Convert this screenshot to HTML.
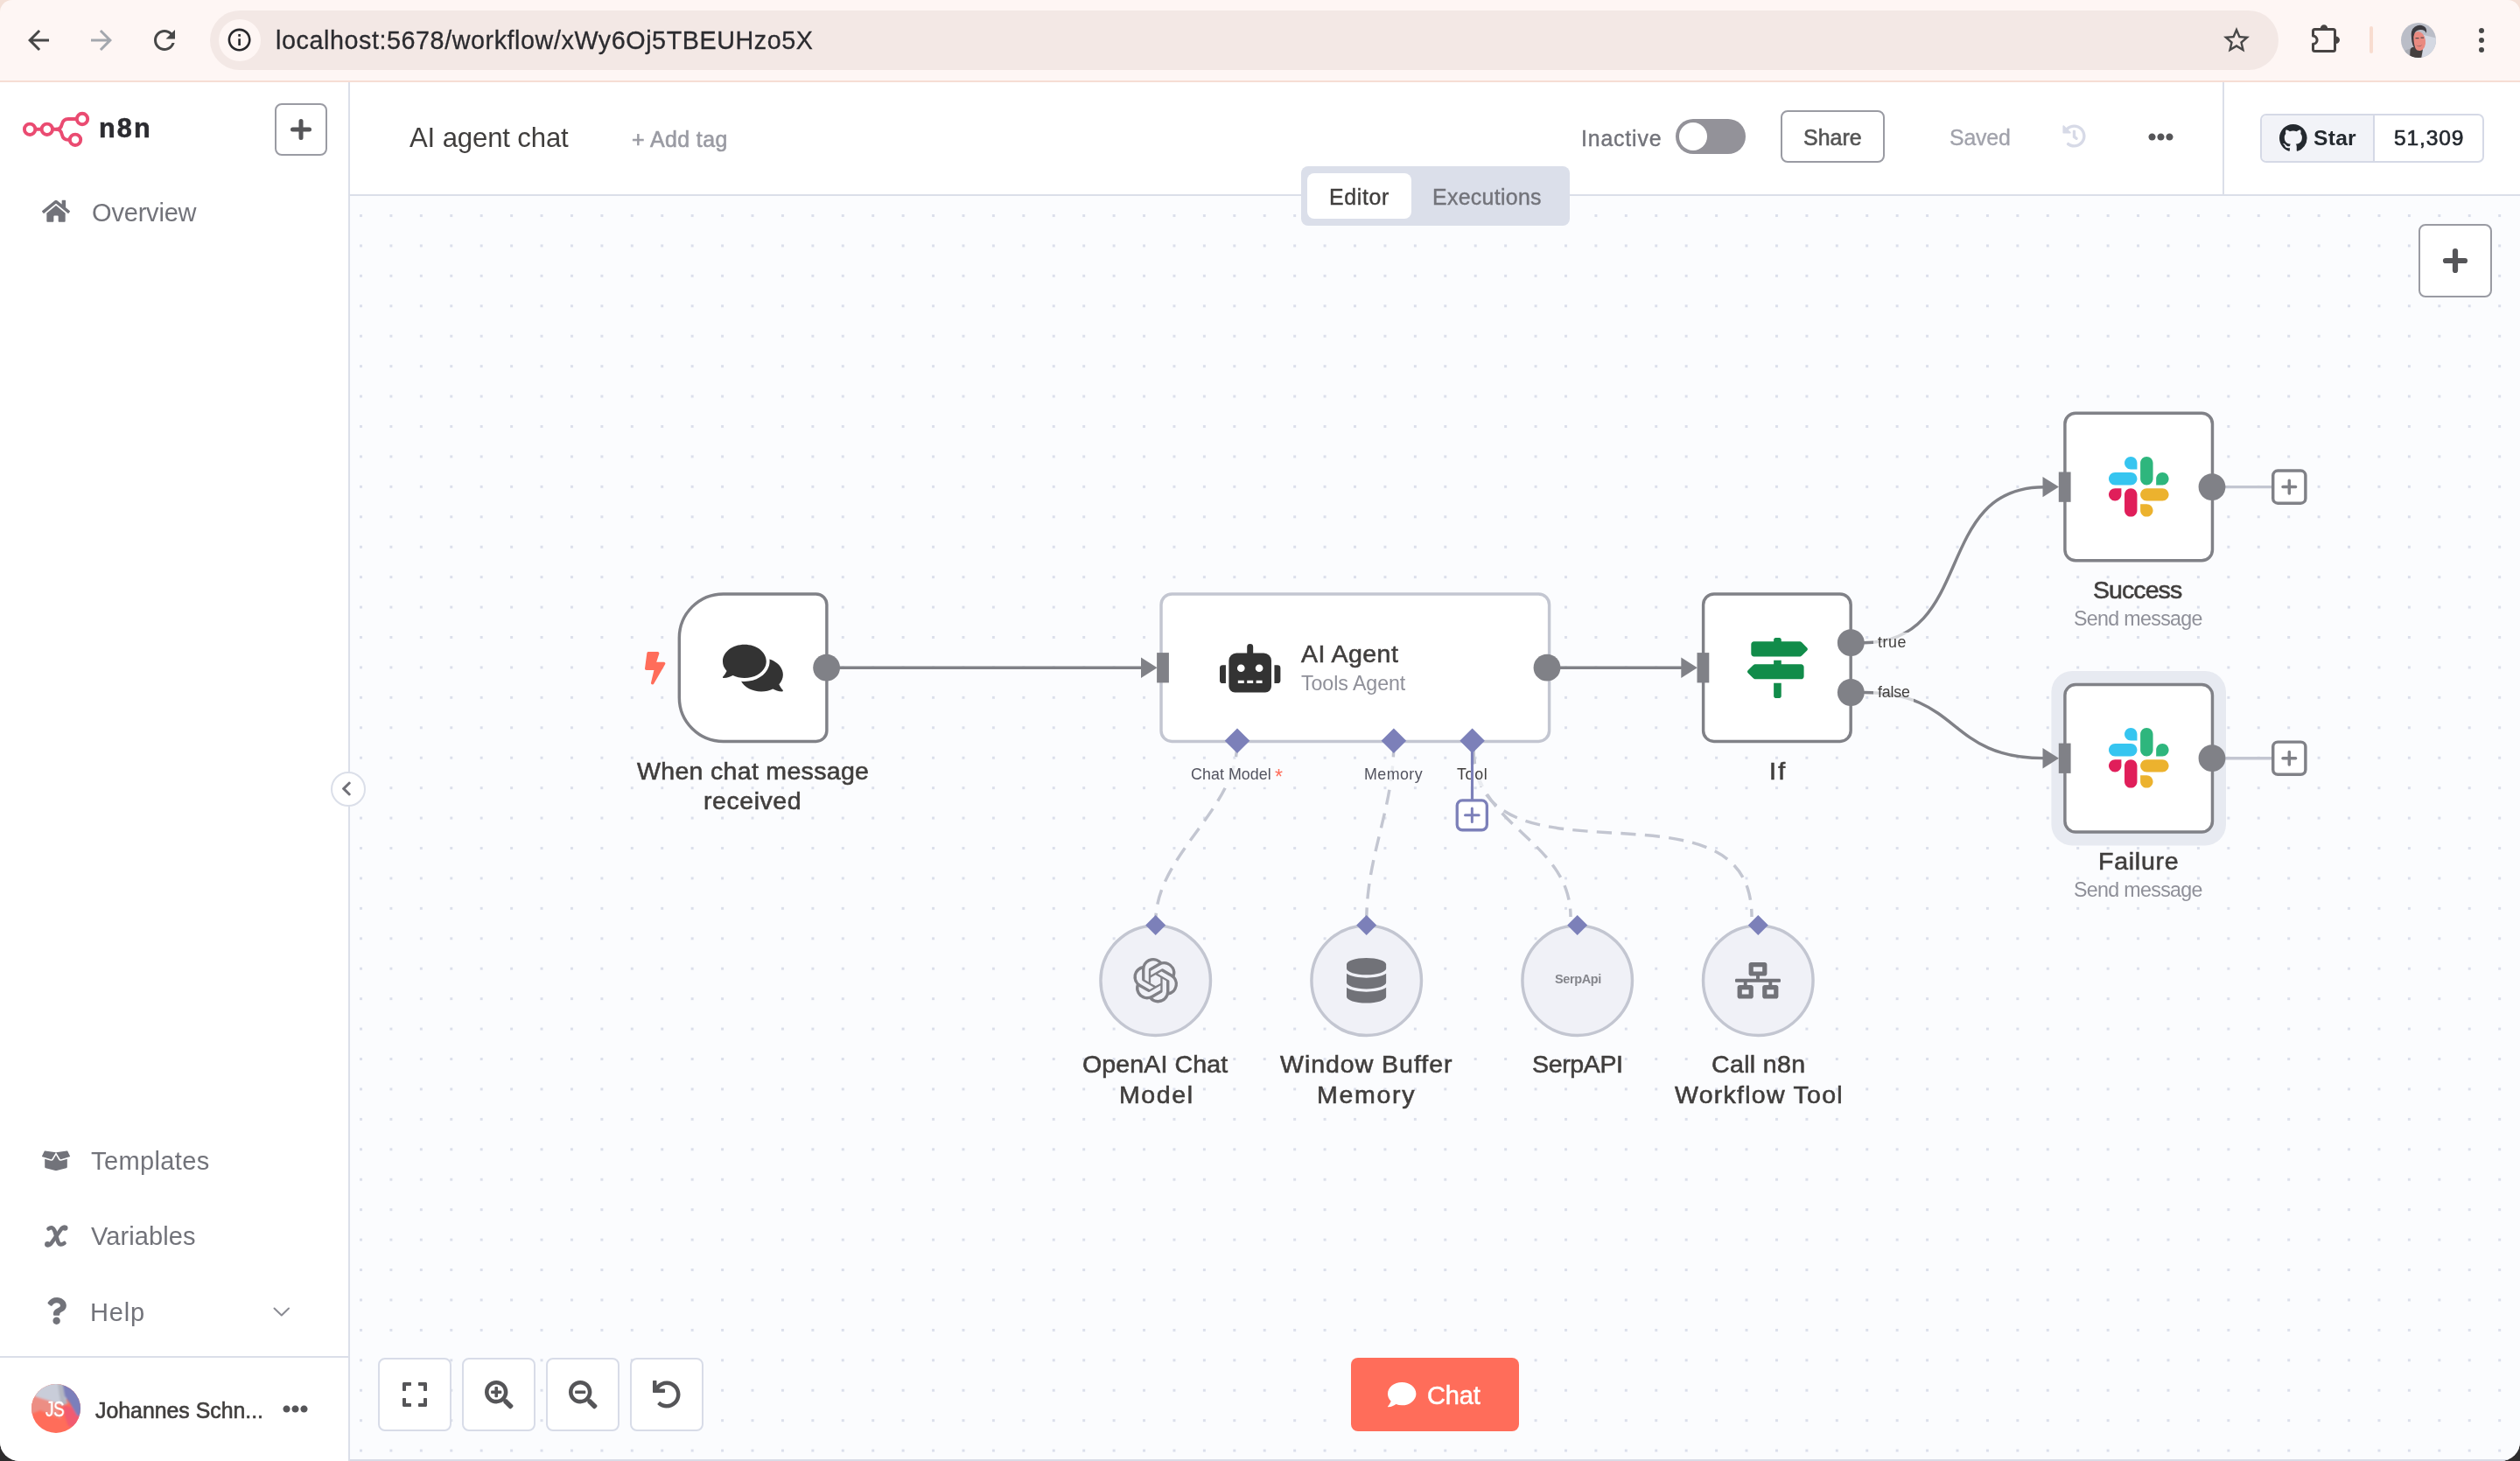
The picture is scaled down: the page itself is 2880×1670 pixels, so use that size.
<!DOCTYPE html><html lang="en"><head><meta charset="utf-8"><title>AI agent chat - n8n</title><style>
*{box-sizing:border-box;margin:0;padding:0}
html,body{width:2880px;height:1670px;overflow:hidden;background:#2e2c2d;font-family:"Liberation Sans",sans-serif}
#win{position:absolute;left:0;top:0;width:2880px;height:1670px;overflow:hidden;border-radius:0 0 22px 22px;background:#fff}
.a{position:absolute}
.ic{position:absolute;display:block;overflow:visible}
.t{position:absolute;white-space:pre;line-height:1;font-family:"Liberation Sans",sans-serif;will-change:transform}
.btn{position:absolute;background:#fff;border:2px solid #d8dce8;border-radius:8px}
</style></head><body><div id="win">
<div class="a" style="left:0;top:0;width:2880px;height:30px;background:#f4e0d7"></div>
<div class="a" style="left:0;top:0;width:2880px;height:92px;background:#fef6f4;border-radius:14px 14px 0 0"></div>
<div class="a" style="left:0;top:92px;width:2880px;height:2px;background:#f6ddd4"></div>
<svg class="ic" style="left:26.00px;top:27.80px;width:36px;height:36px" viewBox="0 0 24 24"><path fill="#474747" d="M20 11H7.83l5.59-5.59L12 4l-8 8 8 8 1.41-1.41L7.83 13H20v-2z"/></svg>
<svg class="ic" style="left:97.80px;top:27.80px;width:36px;height:36px" viewBox="0 0 24 24"><path fill="#a3a7ae" d="M12 4l-1.41 1.41L16.17 11H4v2h12.170l-5.580 5.590L12 20l8-8z"/></svg>
<svg class="ic" style="left:170.00px;top:28.00px;width:36px;height:36px" viewBox="0 0 24 24"><path fill="#474747" d="M17.65 6.35C16.200 4.900 14.210 4 12 4c-4.420 0-7.990 3.580-7.990 8s3.570 8 7.990 8c3.730 0 6.840-2.550 7.730-6h-2.080c-.820 2.330-3.040 4-5.650 4-3.310 0-6-2.690-6-6s2.690-6 6-6c1.660 0 3.140.690 4.220 1.780L13 11h7V4l-2.350 2.350z"/></svg>
<div class="a" style="left:240px;top:12px;width:2364px;height:68px;border-radius:34px;background:#f3e8e5"></div>
<div class="a" style="left:250px;top:22px;width:48px;height:48px;border-radius:24px;background:#fef6f4"></div>
<svg class="ic" style="left:258.40px;top:30.40px;width:31.2px;height:31.2px" viewBox="0 0 24 24"><path fill="#27272b" d="M11 7h2v2h-2zm0 4h2v6h-2zm1-9C6.480 2 2 6.480 2 12s4.480 10 10 10 10-4.480 10-10S17.520 2 12 2zm0 18c-4.410 0-8-3.590-8-8s3.590-8 8-8 8 3.590 8 8-3.590 8-8 8z"/></svg>
<span class="t " style="left:314.70px;top:32.20px;font-size:28.7px;font-weight:400;letter-spacing:0.58px;color:#2b2b2f;-webkit-text-stroke:0.3px #2b2b2f;">localhost:5678/workflow/xWy6Oj5TBEUHzo5X</span>
<svg class="ic" style="left:2538.00px;top:27.50px;width:36px;height:36px" viewBox="0 0 24 24"><path fill="#474747" d="M22 9.240l-7.190-.620L12 2 9.190 8.630 2 9.240l5.460 4.730L5.820 21 12 17.270 18.180 21l-1.630-7.030L22 9.240zM12 15.400l-3.760 2.270 1-4.280-3.320-2.880 4.380-.380L12 6.100l1.710 4.040 4.380.380-3.320 2.880 1 4.280L12 15.400z"/></svg>
<svg class="ic" style="left:2636px;top:22px;width:48px;height:48px" viewBox="2636 22 48 48"><path fill="none" stroke="#474342" stroke-width="3" stroke-linejoin="round" d="M2645.500 33.500 H2666.500 a2 2 0 0 1 2 2 V56.500 a2 2 0 0 1 -2 2 H2645.500 a2 2 0 0 1 -2 -2 V50.300 a4.600 4.600 0 0 0 0 -9.200 V35.500 a2 2 0 0 1 2 -2 Z"/><path fill="#474342" d="M2651.800 32.600 a4.200 4.400 0 0 1 8.400 0 Z M2669.400 41.500 a4.600 4.200 0 0 1 0 8.400 Z"/></svg>
<div class="a" style="left:2708px;top:30px;width:4px;height:31px;border-radius:2px;background:#f8dccf"></div>
<svg class="ic" style="left:2743.7px;top:25.7px;width:40px;height:40px" viewBox="0 0 40 40"><defs><clipPath id="pc"><circle cx="20" cy="20" r="20"/></clipPath></defs><g clip-path="url(#pc)"><rect width="40" height="40" fill="#babdc7"/><path fill="#d4d8e2" d="M26 14 L42 18 V42 H24 Z"/><path fill="#a9acb4" d="M4 32 L14 28 L14 42 L0 42 Z"/><path fill="#45403f" d="M10.500 31 Q12 27 16 28 L25 30 Q24 36 23 41 L10 41 Z"/><ellipse cx="20.400" cy="21" rx="7.600" ry="11" fill="#ea8a80" transform="rotate(-8 20.400 21)"/><path fill="#3d3b40" d="M12 18 Q10.500 8 16 4.500 Q21 1.500 26 4 Q30 6 29 12 Q27 7.500 22 8 Q17 8.500 15.500 12 Q14 15 14.500 20 Q15 27 17.500 31 Q12.500 27 12 18 Z"/><path fill="#5a4a4a" d="M16.500 17 h4 v1.300 h-4 Z M22.500 16.400 h3.600 v1.300 h-3.600 Z M17 25.500 q3.500 2.500 7.500 -0.500 q-3 4 -7.500 0.500 Z"/></g></svg>
<div class="a" style="left:2832.7px;top:32px;width:6px;height:6px;border-radius:3px;background:#474747"></div>
<div class="a" style="left:2832.7px;top:43px;width:6px;height:6px;border-radius:3px;background:#474747"></div>
<div class="a" style="left:2832.7px;top:54px;width:6px;height:6px;border-radius:3px;background:#474747"></div>
<div class="a" style="left:400px;top:224px;width:2480px;height:1446px;background:#fbfcfe"></div>
<svg class="ic" style="left:0;top:0;width:2880px;height:1670px" viewBox="0 0 2880 1670">
<defs><pattern id="dots" x="411" y="245" width="34.425" height="34.43" patternUnits="userSpaceOnUse"><rect x="0" y="0" width="3" height="3" fill="#dbdfeb"/></pattern></defs>
<rect x="400" y="224" width="2480" height="1444" fill="url(#dots)"/>
<rect x="400" y="1668" width="2480" height="2" fill="#d9dce7"/>
<rect x="2344.4" y="766.9" width="199.6" height="199.6" rx="24" fill="#e7eaf1"/>
<path stroke="#c3c6d1" stroke-width="3.44" fill="none" stroke-dasharray="17.2 10.3" d="M1414.0 848.0 C1414.0 926.0 1320.7 976.0 1320.7 1054.0"/>
<path stroke="#c3c6d1" stroke-width="3.44" fill="none" stroke-dasharray="17.2 10.3" d="M1592.9 848.0 C1592.9 926.0 1561.7 976.0 1561.7 1054.0"/>
<path stroke="#c3c6d1" stroke-width="3.44" fill="none" stroke-dasharray="17.2 10.3" d="M1684.0 856.0 C1684.0 944.0 1795.0 960.0 1795.0 1048.0"/>
<path stroke="#c3c6d1" stroke-width="3.44" fill="none" stroke-dasharray="17.2 10.3" d="M1684.0 856.0 C1684.0 1029.0 2002.0 875.0 2002.0 1048.0"/>
<path stroke="#808187" stroke-width="3.44" fill="none" d="M944 763.2 H1306"/>
<path stroke="#808187" stroke-width="3.44" fill="none" d="M1768 763.2 H1923"/>
<path stroke="#808187" stroke-width="3.44" fill="none" d="M2130.0 734.7 C2258.0 734.7 2208.0 556.7 2336.0 556.7"/>
<path stroke="#808187" stroke-width="3.44" fill="none" d="M2130.0 791.5 C2242.0 791.5 2224.0 866.6 2336.0 866.6"/>
<path stroke="#c3c6d1" stroke-width="3.44" fill="none" d="M2528 556.6 H2597 M2528 866.7 H2597"/>
<path fill="#808187" d="M1322.5 763.2 L1304.0 751.5 L1304.0 774.9000000000001 Z"/>
<path fill="#808187" d="M1939.8 763.2 L1921.3 751.5 L1921.3 774.9000000000001 Z"/>
<path fill="#808187" d="M2353 556.6 L2334.5 544.9 L2334.5 568.3000000000001 Z"/>
<path fill="#808187" d="M2353 866.7 L2334.5 855.0 L2334.5 878.4000000000001 Z"/>
<path stroke="#7c80b9" stroke-width="3.2" fill="none" d="M1682.5 856 V915"/>
<path fill="#fff" stroke="#808187" stroke-width="3.44" d="M826.60 678.92 H932.60 A12.28 12.28 0 0 1 944.88 691.20 V835.20 A12.28 12.28 0 0 1 932.60 847.48 H826.60 A50.28 50.28 0 0 1 776.32 797.20 V729.20 A50.28 50.28 0 0 1 826.60 678.92 Z"/>
<path fill="#fff" stroke="#c3c6d1" stroke-width="3.44" d="M1339.30 678.92 H1758.30 A12.28 12.28 0 0 1 1770.58 691.20 V835.20 A12.28 12.28 0 0 1 1758.30 847.48 H1339.30 A12.28 12.28 0 0 1 1327.02 835.20 V691.20 A12.28 12.28 0 0 1 1339.30 678.92 Z"/>
<path fill="#fff" stroke="#808187" stroke-width="3.44" d="M1958.90 678.92 H2102.90 A12.28 12.28 0 0 1 2115.18 691.20 V835.20 A12.28 12.28 0 0 1 2102.90 847.48 H1958.90 A12.28 12.28 0 0 1 1946.62 835.20 V691.20 A12.28 12.28 0 0 1 1958.90 678.92 Z"/>
<path fill="#fff" stroke="#808187" stroke-width="3.44" d="M2372.20 472.22 H2516.20 A12.28 12.28 0 0 1 2528.48 484.50 V628.50 A12.28 12.28 0 0 1 2516.20 640.78 H2372.20 A12.28 12.28 0 0 1 2359.92 628.50 V484.50 A12.28 12.28 0 0 1 2372.20 472.22 Z"/>
<path fill="#fff" stroke="#808187" stroke-width="3.44" d="M2372.20 782.52 H2516.20 A12.28 12.28 0 0 1 2528.48 794.80 V938.80 A12.28 12.28 0 0 1 2516.20 951.08 H2372.20 A12.28 12.28 0 0 1 2359.92 938.80 V794.80 A12.28 12.28 0 0 1 2372.20 782.52 Z"/>
<circle cx="1320.7" cy="1120.7" r="62.78" fill="#f0f1f7" stroke="#c3c6d1" stroke-width="3.44"/>
<circle cx="1561.7" cy="1120.7" r="62.78" fill="#f0f1f7" stroke="#c3c6d1" stroke-width="3.44"/>
<circle cx="1802.7" cy="1120.7" r="62.78" fill="#f0f1f7" stroke="#c3c6d1" stroke-width="3.44"/>
<circle cx="2009.3" cy="1120.7" r="62.78" fill="#f0f1f7" stroke="#c3c6d1" stroke-width="3.44"/>
<circle cx="944.6" cy="763.2" r="15.4" fill="#808187"/>
<circle cx="1768" cy="763.2" r="15.4" fill="#808187"/>
<circle cx="2115.3" cy="734.7" r="15.4" fill="#808187"/>
<circle cx="2115.3" cy="791.5" r="15.4" fill="#808187"/>
<circle cx="2528" cy="556.6" r="15.4" fill="#808187"/>
<circle cx="2528" cy="866.7" r="15.4" fill="#808187"/>
<rect x="1322.1" y="746.1" width="13.8" height="34.3" fill="#808187"/>
<rect x="1939.5" y="746.1" width="13.8" height="34.3" fill="#808187"/>
<rect x="2352.8" y="539.5" width="13.8" height="34.3" fill="#808187"/>
<rect x="2352.8" y="849.6" width="13.8" height="34.3" fill="#808187"/>
<path fill="#7c80b9" d="M1414 832.5 L1428.3 846.8 L1414 861.0999999999999 L1399.7 846.8 Z"/>
<path fill="#7c80b9" d="M1592.9 832.5 L1607.2 846.8 L1592.9 861.0999999999999 L1578.6000000000001 846.8 Z"/>
<path fill="#7c80b9" d="M1682.6 832.5 L1696.8999999999999 846.8 L1682.6 861.0999999999999 L1668.3 846.8 Z"/>
<path fill="#7c80b9" d="M1320.7 1045.9 L1332.2 1057.4 L1320.7 1068.9 L1309.2 1057.4 Z"/>
<path fill="#7c80b9" d="M1561.7 1045.9 L1573.2 1057.4 L1561.7 1068.9 L1550.2 1057.4 Z"/>
<path fill="#7c80b9" d="M1802.7 1045.9 L1814.2 1057.4 L1802.7 1068.9 L1791.2 1057.4 Z"/>
<path fill="#7c80b9" d="M2009.3 1045.9 L2020.8 1057.4 L2009.3 1068.9 L1997.8 1057.4 Z"/>
<rect x="2597.72" y="538.02" width="37.16" height="37.16" rx="5.5" fill="#fff" stroke="#808187" stroke-width="3.44"/>
<path stroke="#808187" stroke-width="3.5" stroke-linecap="round" fill="none" d="M2609 556.6 H2623.6 M2616.3 549.3000000000001 V563.9"/>
<rect x="2597.72" y="848.12" width="37.16" height="37.16" rx="5.5" fill="#fff" stroke="#808187" stroke-width="3.44"/>
<path stroke="#808187" stroke-width="3.5" stroke-linecap="round" fill="none" d="M2609 866.7 H2623.6 M2616.3 859.4000000000001 V874.0"/>
<rect x="1665.25" y="914.85" width="34.10" height="33.90" rx="6" fill="#fff" stroke="#7c80b9" stroke-width="3.3"/>
<path stroke="#7c80b9" stroke-width="3" stroke-linecap="round" fill="none" d="M1674.5 931.8 H1690.2 M1682.35 924 V939.6"/>
</svg>
<svg class="ic" style="left:826.05px;top:732.58px;width:68.90px;height:61.24px;" viewBox="0 0 576 512"><path fill="#333" d="M416 192c0-88.400-93.100-160-208-160S0 103.600 0 192c0 34.300 14.100 65.900 38 92-13.400 30.200-35.500 54.200-35.800 54.500-2.200 2.300-2.800 5.700-1.500 8.700S4.800 352 8 352c36.600 0 66.900-12.300 88.700-25 32.200 15.700 70.300 25 111.300 25 114.900 0 208-71.600 208-160zm122 220c23.900-26 38-57.700 38-92 0-66.900-53.500-124.200-129.300-148.100.900 6.600 1.300 13.300 1.300 20.100 0 105.900-107.700 192-240 192-10.800 0-21.300-.800-31.700-1.900C207.800 439.600 281.800 480 368 480c41 0 79.100-9.200 111.300-25 21.800 12.700 52.100 25 88.700 25 3.200 0 6.100-1.900 7.300-4.800 1.300-2.900.700-6.300-1.500-8.700-.300-.300-22.400-24.200-35.800-54.500z"/></svg>
<svg class="ic" style="left:736.91px;top:744.70px;width:23.38px;height:37.40px;" viewBox="0 0 320 512"><path fill="#ff6d5a" d="M296 160H180.6l42.6-129.8C227.2 15 215.7 0 200 0H56C44 0 33.8 8.9 32.2 20.8l-32 240C-1.7 275.2 9.500 288 24 288h118.700L96.600 482.500c-3.600 15.200 8 29.500 23.300 29.500 8.400 0 16.400-4.400 20.800-12l176-304c9.300-15.900-2.200-36-20.700-36z"/></svg>
<svg class="ic" style="left:1393.80px;top:735.54px;width:69.40px;height:55.52px;" viewBox="0 0 640 512"><path fill="#333" d="M32,224H64V416H32A31.96166,31.96166,0,0,1,0,384V256A31.96166,31.96166,0,0,1,32,224Zm512-48V448a64.06328,64.06328,0,0,1-64,64H160a64.06328,64.06328,0,0,1-64-64V176a79.974,79.974,0,0,1,80-80H288V32a32,32,0,0,1,64,0V96H464A79.974,79.974,0,0,1,544,176ZM264,256a40,40,0,1,0-40,40A39.997,39.997,0,0,0,264,256Zm-8,128H192v32h64Zm96,0H288v32h64ZM456,256a40,40,0,1,0-40,40A39.997,39.997,0,0,0,456,256Zm-8,128H384v32h64ZM640,256V384a31.96166,31.96166,0,0,1-32,32H576V224h32A31.96166,31.96166,0,0,1,640,256Z"/></svg>
<svg class="ic" style="left:1996.55px;top:728.75px;width:68.90px;height:68.90px;" viewBox="0 0 512 512"><path fill="#118c4a" d="M507.310 84.690L464 41.370c-6-6-14.140-9.370-22.630-9.370H288V16c0-8.840-7.160-16-16-16h-32c-8.840 0-16 7.160-16 16v16H56c-13.250 0-24 10.750-24 24v80c0 13.250 10.750 24 24 24h385.370c8.490 0 16.620-3.370 22.630-9.370l43.310-43.310c6.250-6.260 6.250-16.380 0-22.630zM224 496c0 8.840 7.160 16 16 16h32c8.840 0 16-7.160 16-16V384h-64v112zm232-272H288v-32h-64v32H70.630c-8.490 0-16.620 3.370-22.630 9.370L4.690 276.690c-6.250 6.250-6.250 16.380 0 22.630L48 342.630c6 6 14.140 9.370 22.630 9.370H456c13.250 0 24-10.750 24-24v-80c0-13.250-10.750-24-24-24z"/></svg>
<svg class="ic" style="left:2409.7px;top:522.2px;width:68.6px;height:68.6px" viewBox="0 0 122.8 122.8"><path fill="#e01e5a" d="M25.8 77.6c0 7.1-5.8 12.9-12.9 12.9S0 84.700 0 77.600s5.800-12.900 12.900-12.900h12.900v12.900zm6.500 0c0-7.100 5.800-12.900 12.900-12.900s12.900 5.800 12.900 12.900v32.300c0 7.100-5.800 12.900-12.900 12.900s-12.900-5.800-12.900-12.900V77.600z"/><path fill="#36c5f0" d="M45.2 25.8c-7.1 0-12.9-5.8-12.9-12.9S38.100 0 45.200 0s12.900 5.800 12.900 12.900v12.900H45.200zm0 6.500c7.100 0 12.900 5.800 12.900 12.900s-5.800 12.900-12.900 12.900H12.900C5.800 58.100 0 52.300 0 45.200s5.800-12.900 12.900-12.900h32.300z"/><path fill="#2eb67d" d="M97 45.2c0-7.1 5.8-12.9 12.9-12.9s12.900 5.800 12.900 12.900-5.800 12.900-12.900 12.900H97V45.200zm-6.500 0c0 7.100-5.800 12.900-12.900 12.900s-12.900-5.800-12.900-12.900V12.900C64.700 5.800 70.500 0 77.600 0s12.900 5.800 12.900 12.900v32.300z"/><path fill="#ecb22e" d="M77.6 97c7.1 0 12.9 5.8 12.9 12.9s-5.800 12.900-12.900 12.900-12.900-5.800-12.900-12.900V97h12.900zm0-6.500c-7.100 0-12.900-5.800-12.900-12.900s5.800-12.900 12.900-12.900h32.300c7.100 0 12.900 5.800 12.900 12.900s-5.800 12.900-12.900 12.900H77.600z"/></svg>
<svg class="ic" style="left:2409.7px;top:832.4px;width:68.6px;height:68.6px" viewBox="0 0 122.8 122.8"><path fill="#e01e5a" d="M25.8 77.6c0 7.1-5.8 12.9-12.9 12.9S0 84.700 0 77.600s5.800-12.900 12.900-12.900h12.900v12.900zm6.500 0c0-7.100 5.800-12.900 12.900-12.900s12.900 5.800 12.900 12.900v32.300c0 7.100-5.800 12.900-12.900 12.900s-12.900-5.800-12.900-12.900V77.600z"/><path fill="#36c5f0" d="M45.2 25.8c-7.1 0-12.9-5.8-12.9-12.9S38.100 0 45.200 0s12.900 5.800 12.900 12.900v12.900H45.200zm0 6.500c7.100 0 12.900 5.800 12.900 12.900s-5.800 12.900-12.900 12.900H12.900C5.800 58.100 0 52.300 0 45.200s5.800-12.900 12.900-12.900h32.300z"/><path fill="#2eb67d" d="M97 45.2c0-7.1 5.8-12.9 12.9-12.9s12.900 5.800 12.900 12.900-5.800 12.900-12.900 12.900H97V45.200zm-6.500 0c0 7.100-5.800 12.900-12.900 12.900s-12.900-5.800-12.900-12.900V12.900C64.700 5.800 70.500 0 77.600 0s12.900 5.800 12.900 12.900v32.300z"/><path fill="#ecb22e" d="M77.6 97c7.1 0 12.9 5.8 12.9 12.9s-5.800 12.900-12.900 12.900-12.900-5.800-12.900-12.900V97h12.900zm0-6.500c-7.100 0-12.900-5.800-12.900-12.900s5.800-12.900 12.900-12.900h32.300c7.100 0 12.900 5.800 12.900 12.900s-5.800 12.900-12.900 12.900H77.600z"/></svg>
<svg class="ic" style="left:1294.9px;top:1094.9px;width:51.4px;height:51.4px" viewBox="0 0 24 24"><path fill="#808086" d="M22.2819 9.8211a5.9847 5.9847 0 0 0-.5157-4.9108 6.0462 6.0462 0 0 0-6.5098-2.9A6.0651 6.0651 0 0 0 4.9807 4.1818a5.9847 5.9847 0 0 0-3.9977 2.9 6.0462 6.0462 0 0 0 .7427 7.0966 5.98 5.98 0 0 0 .511 4.9107 6.051 6.051 0 0 0 6.5146 2.9001A5.9847 5.9847 0 0 0 13.2599 24a6.0557 6.0557 0 0 0 5.7718-4.2058 5.9894 5.9894 0 0 0 3.9977-2.9001 6.0557 6.0557 0 0 0-.7475-7.0729zm-9.022 12.6081a4.4755 4.4755 0 0 1-2.8764-1.0408l.1419-.0804 4.7783-2.7582a.7948.7948 0 0 0 .3927-.6813v-6.7369l2.02 1.1686a.071.071 0 0 1 .038.052v5.5826a4.504 4.504 0 0 1-4.4945 4.4944zm-9.6607-4.1254a4.4708 4.4708 0 0 1-.5346-3.0137l.142.0852 4.783 2.7582a.7712.7712 0 0 0 .7806 0l5.8428-3.3685v2.3324a.0804.0804 0 0 1-.0332.0615L9.74 19.9502a4.4992 4.4992 0 0 1-6.1408-1.6464zM2.3408 7.8956a4.485 4.485 0 0 1 2.3655-1.9728V11.6a.7664.7664 0 0 0 .3879.6765l5.8144 3.3543-2.0201 1.1685a.0757.0757 0 0 1-.071 0l-4.8303-2.7865A4.504 4.504 0 0 1 2.3408 7.872zm16.5963 3.8558L13.1038 8.364 15.1192 7.2a.0757.0757 0 0 1 .071 0l4.8303 2.7913a4.4944 4.4944 0 0 1-.6765 8.1042v-5.6772a.79.79 0 0 0-.407-.667zm2.0107-3.0231l-.142-.0852-4.7735-2.7818a.7759.7759 0 0 0-.7854 0L9.409 9.2297V6.8974a.0662.0662 0 0 1 .0284-.0615l4.8303-2.7866a4.4992 4.4992 0 0 1 6.6802 4.66zM8.3065 12.863l-2.02-1.1638a.0804.0804 0 0 1-.038-.0567V6.0742a4.4992 4.4992 0 0 1 7.3757-3.4537l-.142.0805L8.704 5.459a.7948.7948 0 0 0-.3927.6813zm1.0976-2.3654l2.602-1.4998 2.6069 1.4998v2.9994l-2.5974 1.4997-2.6067-1.4997Z"/></svg>
<svg class="ic" style="left:1539.12px;top:1094.50px;width:45.15px;height:51.60px;" viewBox="0 0 448 512"><path fill="#717278" d="M448 73.143v45.714C448 159.143 347.667 192 224 192S0 159.143 0 118.857V73.143C0 32.857 100.333 0 224 0s224 32.857 224 73.143zM448 176v102.857C448 319.143 347.667 352 224 352S0 319.143 0 278.857V176c48.125 33.143 136.208 48.572 224 48.572S399.874 209.143 448 176zm0 160v102.857C448 479.143 347.667 512 224 512S0 479.143 0 438.857V336c48.125 33.143 136.208 48.572 224 48.572S399.874 369.143 448 336z"/></svg>
<svg class="ic" style="left:1983.40px;top:1099.60px;width:52.00px;height:41.60px;" viewBox="0 0 640 512"><path fill="#717278" d="M640 264v-16c0-8.840-7.160-16-16-16H344v-40h72c17.670 0 32-14.330 32-32V32c0-17.670-14.330-32-32-32H224c-17.670 0-32 14.330-32 32v128c0 17.670 14.330 32 32 32h72v40H16c-8.840 0-16 7.160-16 16v16c0 8.840 7.160 16 16 16h104v40H64c-17.670 0-32 14.330-32 32v128c0 17.670 14.330 32 32 32h160c17.670 0 32-14.330 32-32V352c0-17.670-14.330-32-32-32h-56v-40h304v40h-56c-17.670 0-32 14.330-32 32v128c0 17.670 14.330 32 32 32h160c17.670 0 32-14.330 32-32V352c0-17.670-14.330-32-32-32h-56v-40h104c8.840 0 16-7.160 16-16zM256 128V64h128v64H256zm-64 320H96v-64h96v64zm352 0h-96v-64h96v64z"/></svg>
<span class="t " style="left:1776.60px;top:1112.46px;font-size:14.52px;font-weight:700;letter-spacing:-0.4px;color:#85868c;">SerpApi</span>
<div class="a" style="left:1356px;top:874px;width:116px;height:26px;background:rgba(251,252,254,.7);"></div>
<div class="a" style="left:1556.1px;top:873.6px;width:73.6px;height:25.6px;background:rgba(251,252,254,.7);"></div>
<div class="a" style="left:1661.4px;top:873.6px;width:41.5px;height:25.6px;background:rgba(251,252,254,.7);"></div>
<div class="a" style="left:2140.7px;top:723.3px;width:42.4px;height:23.6px;background:rgba(251,252,254,.7);"></div>
<div class="a" style="left:2140.7px;top:780.0px;width:46.6px;height:23.6px;background:rgba(251,252,254,.7);"></div>
<span class="t " style="left:1360.60px;top:877.14px;font-size:17.84px;font-weight:400;letter-spacing:0.066px;color:#52535f;">Chat Model</span>
<span class="t " style="left:1559.10px;top:877.14px;font-size:17.84px;font-weight:400;letter-spacing:0.44px;color:#52535f;">Memory</span>
<span class="t " style="left:1665.40px;top:877.14px;font-size:17.84px;font-weight:400;letter-spacing:0.667px;color:#403e3d;">Tool</span>
<span class="t " style="left:2145.70px;top:725.84px;font-size:17.84px;font-weight:400;letter-spacing:0.6px;color:#403e3d;">true</span>
<span class="t " style="left:2145.70px;top:782.54px;font-size:17.84px;font-weight:400;letter-spacing:-0.2px;color:#403e3d;">false</span>
<div class="a" style="left:1680.9px;top:860px;width:3.2px;height:54px;background:#7c80b9"></div>
<span class="t " style="left:728.00px;top:867.46px;font-size:28.52px;font-weight:400;letter-spacing:0.312px;color:#403e3d;-webkit-text-stroke:0.6px #403e3d;">When chat message</span>
<span class="t " style="left:804.00px;top:901.46px;font-size:28.52px;font-weight:400;letter-spacing:0.543px;color:#403e3d;-webkit-text-stroke:0.6px #403e3d;">received</span>
<span class="t " style="left:1487.00px;top:733.16px;font-size:28.52px;font-weight:400;letter-spacing:0.429px;color:#403e3d;-webkit-text-stroke:0.6px #403e3d;">AI Agent</span>
<span class="t " style="left:1487.00px;top:769.65px;font-size:23.23px;font-weight:400;letter-spacing:-0.08px;color:#8f9099;">Tools Agent</span>
<span class="t " style="left:2022.00px;top:867.06px;font-size:28.52px;font-weight:400;letter-spacing:2.4px;color:#403e3d;-webkit-text-stroke:0.6px #403e3d;">If</span>
<span class="t " style="left:2392.40px;top:659.76px;font-size:28.52px;font-weight:400;letter-spacing:-0.933px;color:#403e3d;-webkit-text-stroke:0.6px #403e3d;">Success</span>
<span class="t " style="left:2369.60px;top:695.95px;font-size:23.23px;font-weight:400;letter-spacing:-0.673px;color:#8f9099;">Send message</span>
<span class="t " style="left:2397.60px;top:969.76px;font-size:28.52px;font-weight:400;letter-spacing:0.733px;color:#403e3d;-webkit-text-stroke:0.6px #403e3d;">Failure</span>
<span class="t " style="left:2369.60px;top:1006.45px;font-size:23.23px;font-weight:400;letter-spacing:-0.673px;color:#8f9099;">Send message</span>
<span class="t " style="left:1237.00px;top:1202.16px;font-size:28.52px;font-weight:400;letter-spacing:0.14px;color:#403e3d;-webkit-text-stroke:0.6px #403e3d;">OpenAI Chat</span>
<span class="t " style="left:1278.80px;top:1236.86px;font-size:28.52px;font-weight:400;letter-spacing:1.6px;color:#403e3d;-webkit-text-stroke:0.6px #403e3d;">Model</span>
<span class="t " style="left:1462.90px;top:1202.16px;font-size:28.52px;font-weight:400;letter-spacing:0.967px;color:#403e3d;-webkit-text-stroke:0.6px #403e3d;">Window Buffer</span>
<span class="t " style="left:1505.00px;top:1236.86px;font-size:28.52px;font-weight:400;letter-spacing:1.72px;color:#403e3d;-webkit-text-stroke:0.6px #403e3d;">Memory</span>
<span class="t " style="left:1750.60px;top:1202.16px;font-size:28.52px;font-weight:400;letter-spacing:-0.367px;color:#403e3d;-webkit-text-stroke:0.6px #403e3d;">SerpAPI</span>
<span class="t " style="left:1956.00px;top:1202.16px;font-size:28.52px;font-weight:400;letter-spacing:0.343px;color:#403e3d;-webkit-text-stroke:0.6px #403e3d;">Call n8n</span>
<span class="t " style="left:1914.30px;top:1236.86px;font-size:28.52px;font-weight:400;letter-spacing:1.266px;color:#403e3d;-webkit-text-stroke:0.6px #403e3d;">Workflow Tool</span>
<span class="t" style="left:1457.2px;top:876.6px;font-size:23px;color:#ff6d5a;font-weight:400">*</span>
<div class="btn" style="left:432px;top:1552px;width:84px;height:84px"></div>
<svg class="ic" style="left:460.00px;top:1578.00px;width:28.00px;height:32.00px;" viewBox="0 0 448 512"><path fill="#555558" d="M0 180V56c0-13.300 10.700-24 24-24h124c6.600 0 12 5.400 12 12v40c0 6.600-5.400 12-12 12H64v84c0 6.600-5.400 12-12 12H12c-6.600 0-12-5.400-12-12zM288 44v40c0 6.600 5.400 12 12 12h84v84c0 6.600 5.400 12 12 12h40c6.600 0 12-5.400 12-12V56c0-13.300-10.700-24-24-24H300c-6.600 0-12 5.400-12 12zm148 276h-40c-6.600 0-12 5.400-12 12v84h-84c-6.600 0-12 5.400-12 12v40c0 6.600 5.400 12 12 12h124c13.300 0 24-10.700 24-24V332c0-6.600-5.400-12-12-12zM160 468v-40c0-6.600-5.400-12-12-12H64v-84c0-6.600-5.400-12-12-12H12c-6.600 0-12 5.400-12 12v124c0 13.300 10.700 24 24 24h124c6.600 0 12-5.400 12-12z"/></svg>
<div class="btn" style="left:528px;top:1552px;width:84px;height:84px"></div>
<svg class="ic" style="left:553.75px;top:1577.75px;width:32.50px;height:32.50px;" viewBox="0 0 512 512"><path fill="#555558" d="M304 192v32c0 6.600-5.400 12-12 12h-56v56c0 6.600-5.400 12-12 12h-32c-6.600 0-12-5.400-12-12v-56h-56c-6.600 0-12-5.400-12-12v-32c0-6.600 5.400-12 12-12h56v-56c0-6.600 5.400-12 12-12h32c6.600 0 12 5.400 12 12v56h56c6.600 0 12 5.400 12 12zm201 284.700L476.700 505c-9.400 9.400-24.600 9.400-33.900 0L343 405.300c-4.500-4.500-7-10.600-7-17V372c-35.300 27.600-79.700 44-128 44C93.100 416 0 322.900 0 208S93.100 0 208 0s208 93.100 208 208c0 48.300-16.400 92.700-44 128h16.300c6.400 0 12.500 2.500 17 7l99.700 99.700c9.300 9.400 9.300 24.600 0 34zM344 208c0-75.200-60.800-136-136-136S72 132.800 72 208s60.800 136 136 136 136-60.800 136-136z"/></svg>
<div class="btn" style="left:624px;top:1552px;width:84px;height:84px"></div>
<svg class="ic" style="left:649.75px;top:1577.75px;width:32.50px;height:32.50px;" viewBox="0 0 512 512"><path fill="#555558" d="M304 192v32c0 6.600-5.400 12-12 12H124c-6.600 0-12-5.400-12-12v-32c0-6.600 5.400-12 12-12h168c6.600 0 12 5.400 12 12zm201 284.700L476.700 505c-9.400 9.400-24.600 9.400-33.900 0L343 405.300c-4.500-4.500-7-10.600-7-17V372c-35.300 27.600-79.700 44-128 44C93.100 416 0 322.900 0 208S93.100 0 208 0s208 93.100 208 208c0 48.300-16.400 92.700-44 128h16.300c6.400 0 12.500 2.500 17 7l99.700 99.700c9.300 9.400 9.300 24.600 0 34zM344 208c0-75.200-60.800-136-136-136S72 132.800 72 208s60.800 136 136 136 136-60.800 136-136z"/></svg>
<div class="btn" style="left:720px;top:1552px;width:84px;height:84px"></div>
<svg class="ic" style="left:746.00px;top:1577.60px;width:32.00px;height:32.00px;" viewBox="0 0 512 512"><path fill="#555558" d="M212.333 224.333H12c-6.627 0-12-5.373-12-12V12C0 5.373 5.373 0 12 0h48c6.627 0 12 5.373 12 12v78.112C117.773 39.279 184.260 7.470 258.175 8.007c136.906.994 246.448 111.623 246.157 248.532C504.041 393.258 393.120 504 256.333 504c-64.089 0-122.496-24.313-166.510-64.215-5.099-4.622-5.334-12.554-.467-17.420l33.967-33.967c4.474-4.474 11.662-4.717 16.401-.525C170.760 415.336 211.580 432 256.333 432c97.268 0 176-78.716 176-176 0-97.267-78.716-176-176-176-58.496 0-110.280 28.476-142.274 72.333h98.274c6.627 0 12 5.373 12 12v48c0 6.627-5.373 12-12 12z"/></svg>
<div class="a" style="left:1544.4px;top:1552px;width:191.2px;height:84px;border-radius:8px;background:#ff6d5a"></div>
<svg class="ic" style="left:1586.40px;top:1577.70px;width:32.40px;height:32.40px;" viewBox="0 0 512 512"><path fill="#fff" d="M256 32C114.600 32 0 125.100 0 240c0 49.600 21.400 95 57 130.700C44.500 421.100 2.700 466 2.200 466.500c-2.200 2.300-2.800 5.700-1.500 8.700S4.800 480 8 480c66.300 0 116-31.800 140.600-51.400 32.700 12.300 69 19.400 107.400 19.400 141.400 0 256-93.100 256-208S397.400 32 256 32z"/></svg>
<span class="t " style="left:1631.00px;top:1580.92px;font-size:29.04px;font-weight:400;letter-spacing:-0.2px;color:#ffffff;-webkit-text-stroke:0.5px #ffffff;">Chat</span>
<div class="btn" style="left:2764px;top:256px;width:84px;height:84px;border-color:#9a9ba3"></div>
<svg class="ic" style="left:2791px;top:283px;width:30px;height:30px" viewBox="0 0 30 30"><path stroke="#555558" stroke-width="6.2" stroke-linecap="round" d="M4 15 H26 M15 4 V26"/></svg>
<div class="a" style="left:400px;top:94px;width:2480px;height:128px;background:#fff"></div>
<div class="a" style="left:400px;top:222px;width:2480px;height:2px;background:#dbdfe9"></div>
<div class="a" style="left:2540px;top:94px;width:2px;height:128px;background:#dbdfe9"></div>
<span class="t " style="left:468.00px;top:142.16px;font-size:31.11px;font-weight:400;letter-spacing:-0.134px;color:#403e3d;">AI agent chat</span>
<span class="t " style="left:721.80px;top:146.84px;font-size:24.89px;font-weight:400;letter-spacing:0.426px;color:#9a9ba3;-webkit-text-stroke:0.6px #9a9ba3;">+ Add tag</span>
<span class="t " style="left:1807.30px;top:145.54px;font-size:24.89px;font-weight:400;letter-spacing:0.828px;color:#72737a;-webkit-text-stroke:0.4px #72737a;">Inactive</span>
<div class="a" style="left:1915px;top:136px;width:80px;height:40px;border-radius:20px;background:#939299"></div>
<div class="a" style="left:1918.6px;top:139.6px;width:32.8px;height:32.8px;border-radius:17px;background:#fff"></div>
<div class="btn" style="left:2035.1px;top:126.3px;width:118.6px;height:59.3px;border-color:#9a9ba3"></div>
<span class="t " style="left:2061.30px;top:144.74px;font-size:24.89px;font-weight:400;letter-spacing:0.05px;color:#555555;-webkit-text-stroke:0.6px #555555;">Share</span>
<span class="t " style="left:2228.00px;top:144.74px;font-size:24.89px;font-weight:400;letter-spacing:-0.2px;color:#a1a2ab;-webkit-text-stroke:0.3px #a1a2ab;">Saved</span>
<svg class="ic" style="left:2356.50px;top:142.20px;width:27.00px;height:27.00px;" viewBox="0 0 512 512"><path fill="#d7dae7" d="M504 255.531c.253 136.640-111.180 248.372-247.820 248.468-59.015.042-113.223-20.530-155.822-54.911-11.077-8.940-11.905-25.541-1.839-35.607l11.267-11.267c8.609-8.609 22.353-9.551 31.891-1.984C173.062 425.135 212.781 440 256 440c101.705 0 184-82.311 184-184 0-101.705-82.311-184-184-184-48.814 0-93.149 18.969-126.068 49.932l50.754 50.754c10.080 10.080 2.941 27.314-11.313 27.314H24c-8.837 0-16-7.163-16-16V38.627c0-14.254 17.234-21.393 27.314-11.314l49.372 49.372C129.209 34.136 189.552 8 256 8c136.810 0 247.747 110.780 248 247.531zm-180.912 78.784l9.823-12.630c8.138-10.463 6.253-25.542-4.210-33.679L288 256.349V152c0-13.255-10.745-24-24-24h-16c-13.255 0-24 10.745-24 24v135.651l65.409 50.874c10.463 8.137 25.541 6.253 33.679-4.210z"/></svg>
<svg class="ic" style="left:2455.30px;top:141.50px;width:29.00px;height:29.00px;" viewBox="0 0 512 512"><path fill="#555558" d="M328 256c0 39.800-32.200 72-72 72s-72-32.200-72-72 32.200-72 72-72 72 32.200 72 72zm104-72c-39.800 0-72 32.200-72 72s32.200 72 72 72 72-32.200 72-72-32.200-72-72-72zm-352 0c-39.800 0-72 32.200-72 72s32.200 72 72 72 72-32.200 72-72-32.200-72-72-72z"/></svg>
<div class="a" style="left:2583.4px;top:130.3px;width:255.2px;height:55.4px;border-radius:7px;border:2px solid #d5d9e6;background:#fff;overflow:hidden"><div class="a" style="left:0;top:0;width:129px;height:52px;background:#f2f3f8;border-right:2px solid #d5d9e6"></div></div>
<svg class="ic" style="left:2605px;top:141.8px;width:31.6px;height:31.6px" viewBox="0 0 16 16"><path fill="#24292f" fill-rule="evenodd" d="M8 0C3.58 0 0 3.58 0 8c0 3.54 2.29 6.53 5.47 7.59.4.07.55-.17.55-.38 0-.19-.01-.82-.01-1.49-2.01.37-2.53-.49-2.69-.94-.09-.23-.48-.94-.82-1.13-.28-.15-.68-.52-.01-.53.63-.01 1.08.58 1.23.82.72 1.21 1.87.87 2.33.66.07-.52.28-.87.51-1.07-1.78-.2-3.64-.89-3.64-3.95 0-.87.31-1.59.82-2.15-.08-.2-.36-1.02.08-2.12 0 0 .67-.21 2.2.82.64-.18 1.32-.27 2-.27.68 0 1.36.09 2 .27 1.53-1.04 2.2-.82 2.2-.82.44 1.1.16 1.92.08 2.12.51.56.82 1.27.82 2.15 0 3.07-1.87 3.75-3.65 3.95.29.25.54.73.54 1.48 0 1.07-.01 1.93-.01 2.2 0 .21.15.46.55.38A8.013 8.013 0 0016 8c0-4.42-3.58-8-8-8z"/></svg>
<span class="t " style="left:2643.90px;top:145.59px;font-size:24.6px;font-weight:700;letter-spacing:0.266px;color:#24292f;">Star</span>
<span class="t " style="left:2736.30px;top:145.59px;font-size:24.6px;font-weight:400;letter-spacing:0.84px;color:#24292f;-webkit-text-stroke:0.6px #24292f;">51,309</span>
<div class="a" style="left:1486.6px;top:190px;width:307.2px;height:67.8px;border-radius:8px;background:#dbdfea"></div>
<div class="a" style="left:1494.3px;top:198px;width:118.3px;height:52px;border-radius:8px;background:#fff"></div>
<span class="t " style="left:1519.00px;top:212.84px;font-size:24.89px;font-weight:400;letter-spacing:0.68px;color:#403e3d;-webkit-text-stroke:0.4px #403e3d;">Editor</span>
<span class="t " style="left:1636.50px;top:212.84px;font-size:24.89px;font-weight:400;letter-spacing:0.311px;color:#72737a;-webkit-text-stroke:0.4px #72737a;">Executions</span>
<div class="a" style="left:0;top:94px;width:398px;height:1576px;background:#fff"></div>
<div class="a" style="left:398px;top:94px;width:2px;height:1576px;background:#dbdfe9"></div>
<svg class="ic" style="left:20px;top:120px;width:90px;height:56px" viewBox="20 120 90 56"><g fill="none" stroke="#ea4b71" stroke-width="3.9" stroke-linecap="round"><circle cx="34.1" cy="147.8" r="6.2"/><circle cx="53.8" cy="147.8" r="6.2"/><circle cx="94" cy="136" r="6.2"/><circle cx="86" cy="159.8" r="6.2"/><path d="M41 147.8 H47"/><path d="M61 147.800 H64.500 Q69.500 147.800 70.800 142 Q72.200 136 78 136 H87"/><path d="M64.500 147.800 Q69.500 147.800 70.800 153.800 Q72.200 159.800 78 159.800 H79"/></g></svg>
<span class="t " style="left:112.50px;top:130.60px;font-size:30.59px;font-weight:700;letter-spacing:2.1px;color:#2b2b30;-webkit-text-stroke:0.6px #2b2b30;">n8n</span>
<div class="btn" style="left:314.2px;top:118.3px;width:59.6px;height:59.6px;border-color:#9a9ba3"></div>
<svg class="ic" style="left:330px;top:134px;width:28px;height:28px" viewBox="0 0 28 28"><path stroke="#555558" stroke-width="5" stroke-linecap="round" d="M4.500 14 H23.500 M14 4.500 V23.500"/></svg>
<svg class="ic" style="left:48.10px;top:226.90px;width:32.00px;height:28.44px;" viewBox="0 0 576 512"><path fill="#72737a" d="M280.370 148.260L96 300.110V464a16 16 0 0 0 16 16l112.060-.290a16 16 0 0 0 15.920-16V368a16 16 0 0 1 16-16h64a16 16 0 0 1 16 16v95.640a16 16 0 0 0 16 16.050L464 480a16 16 0 0 0 16-16V300L295.670 148.260a12.190 12.190 0 0 0-15.300 0zM571.600 251.470L488 182.560V44.050a12 12 0 0 0-12-12h-56a12 12 0 0 0-12 12v72.610L318.470 43a48 48 0 0 0-61 0L4.340 251.470a12 12 0 0 0-1.600 16.900l25.500 31A12 12 0 0 0 45.150 301l235.220-193.740a12.190 12.190 0 0 1 15.300 0L530.900 301a12 12 0 0 0 16.900-1.600l25.500-31a12 12 0 0 0-1.700-16.930z"/></svg>
<span class="t " style="left:104.50px;top:229.02px;font-size:29.04px;font-weight:400;letter-spacing:-0.2px;color:#72737a;">Overview</span>
<svg class="ic" style="left:48.00px;top:1313.80px;width:32.00px;height:25.60px;" viewBox="0 0 640 512"><path fill="#72737a" d="M425.700 256c-16.900 0-32.800-9-41.400-23.400L320 126l-64.200 106.600c-8.700 14.500-24.600 23.500-41.500 23.500-4.500 0-9-.600-13.300-1.900L64 215v178c0 14.700 10 27.500 24.200 31l216.200 54.100c10.200 2.500 20.900 2.500 31 0L551.800 424c14.200-3.600 24.200-16.400 24.200-31V215l-137 39.100c-4.300 1.300-8.800 1.900-13.300 1.900zm212.600-112.200L586.800 41c-3.100-6.200-9.800-9.800-16.700-8.900L320 64l91.700 152.100c3.800 6.300 11.400 9.300 18.500 7.300l197.900-56.500c9.900-2.900 14.700-13.900 10.200-23.100zM53.200 41L1.700 143.800c-4.600 9.200.300 20.200 10.100 23l197.900 56.500c7.100 2 14.700-1 18.500-7.300L320 64 69.800 32.100c-6.900-.800-13.500 2.700-16.600 8.900z"/></svg>
<span class="t " style="left:104.00px;top:1313.42px;font-size:29.04px;font-weight:400;letter-spacing:0.375px;color:#72737a;">Templates</span>
<svg class="ic" style="left:46px;top:1396px;width:36px;height:34px" viewBox="46 1396 36 34"><g fill="none" stroke="#72737a" stroke-width="4.6" stroke-linecap="round"><path d="M55.500 1404.500 Q60 1401 62.500 1407 L66 1418.500 Q68 1425 73.500 1421"/><path d="M54 1423 Q56.500 1424 59 1420.500 L69.500 1405.500 Q72 1402 74.500 1403.200"/></g><circle cx="54.300" cy="1422.300" r="3.200" fill="#72737a"/><circle cx="74.300" cy="1403.600" r="3.200" fill="#72737a"/></svg>
<span class="t " style="left:104.00px;top:1399.42px;font-size:29.04px;font-weight:400;letter-spacing:0.075px;color:#72737a;">Variables</span>
<svg class="ic" style="left:53.40px;top:1483.40px;width:23.25px;height:31.00px;" viewBox="0 0 384 512"><path fill="#72737a" d="M202.021 0C122.202 0 70.503 32.703 29.914 91.026c-7.363 10.580-5.093 25.086 5.178 32.874l43.138 32.709c10.373 7.865 25.132 6.026 33.253-4.148 25.049-31.381 43.630-49.449 82.757-49.449 30.764 0 68.816 19.799 68.816 49.631 0 22.552-18.617 34.134-48.993 51.164-35.423 19.860-82.299 44.576-82.299 106.405V320c0 13.255 10.745 24 24 24h72.471c13.255 0 24-10.745 24-24v-5.773c0-42.860 125.268-44.645 125.268-160.627C377.504 66.256 286.902 0 202.021 0zM192 373.459c-38.196 0-69.271 31.075-69.271 69.271 0 38.195 31.075 69.270 69.271 69.270s69.271-31.075 69.271-69.271-31.075-69.270-69.271-69.270z"/></svg>
<span class="t " style="left:102.60px;top:1485.72px;font-size:29.04px;font-weight:400;letter-spacing:0.8px;color:#72737a;">Help</span>
<svg class="ic" style="left:310px;top:1490px;width:24px;height:20px" viewBox="310 1490 24 20"><path fill="none" stroke="#8a8b93" stroke-width="2" stroke-linecap="round" stroke-linejoin="round" d="M313.500 1495.500 L321.800 1503.500 L330 1495.500"/></svg>
<div class="a" style="left:0;top:1550px;width:398px;height:2px;background:#dbdfe9"></div>
<svg class="ic" style="left:35.9px;top:1581.8px;width:56px;height:56px" viewBox="0 0 56 56"><defs><clipPath id="avc"><circle cx="28" cy="28" r="28"/></clipPath><filter id="avb" x="-20%" y="-20%" width="140%" height="140%"><feGaussianBlur stdDeviation="1.1"/></filter></defs><g clip-path="url(#avc)"><rect width="56" height="56" fill="#ff6d5a"/><g filter="url(#avb)"><path fill="#ec8e84" d="M-4 10 L30 24 L34 40 L10 30 L-4 36 Z"/><path fill="#ee5576" opacity=".8" d="M36 24 L58 30 L52 50 L42 48 L38 36 Z"/><path fill="#c9cdd9" d="M-4 -4 H40 L40 18 L34 24 L22 20 L4 14 Z"/><path fill="#b4b7c2" d="M30 0 L37 0 L38 16 L42 22 L34 25 L32 14 Z"/><path fill="#7b7fbb" d="M35 -4 H60 V38 L52 36 L44 22 L38 14 Z"/></g></g></svg>
<span class="t" style="left:52.3px;top:1599.3px;font-size:24px;color:#fff;-webkit-text-stroke:.4px #fff;transform:scaleX(.79);transform-origin:0 0;letter-spacing:-.5px">JS</span>
<span class="t " style="left:108.60px;top:1600.44px;font-size:24.89px;font-weight:400;letter-spacing:-0.013px;color:#403e3d;-webkit-text-stroke:0.6px #403e3d;">Johannes Schn...</span>
<svg class="ic" style="left:323.20px;top:1596.20px;width:29.00px;height:29.00px;" viewBox="0 0 512 512"><path fill="#555558" d="M328 256c0 39.800-32.200 72-72 72s-72-32.200-72-72 32.200-72 72-72 72 32.200 72 72zm104-72c-39.800 0-72 32.200-72 72s32.200 72 72 72 72-32.200 72-72-32.200-72-72-72zm-352 0c-39.800 0-72 32.200-72 72s32.200 72 72 72 72-32.200 72-72-32.200-72-72-72z"/></svg>
<div class="a" style="left:378px;top:882px;width:40px;height:40px;border-radius:20px;background:#fff;border:2px solid #dbdfe9"></div>
<svg class="ic" style="left:390.06px;top:892.30px;width:11.88px;height:19.00px;" viewBox="0 0 320 512"><path fill="#717178" d="M34.520 239.030L228.870 44.690c9.370-9.370 24.570-9.370 33.940 0l22.670 22.670c9.360 9.360 9.370 24.520.040 33.900L131.490 256l154.020 154.750c9.340 9.380 9.320 24.540-.040 33.900l-22.670 22.670c-9.370 9.370-24.570 9.370-33.940 0L34.520 272.970c-9.370-9.370-9.370-24.570 0-33.940z"/></svg>
</div></body></html>
